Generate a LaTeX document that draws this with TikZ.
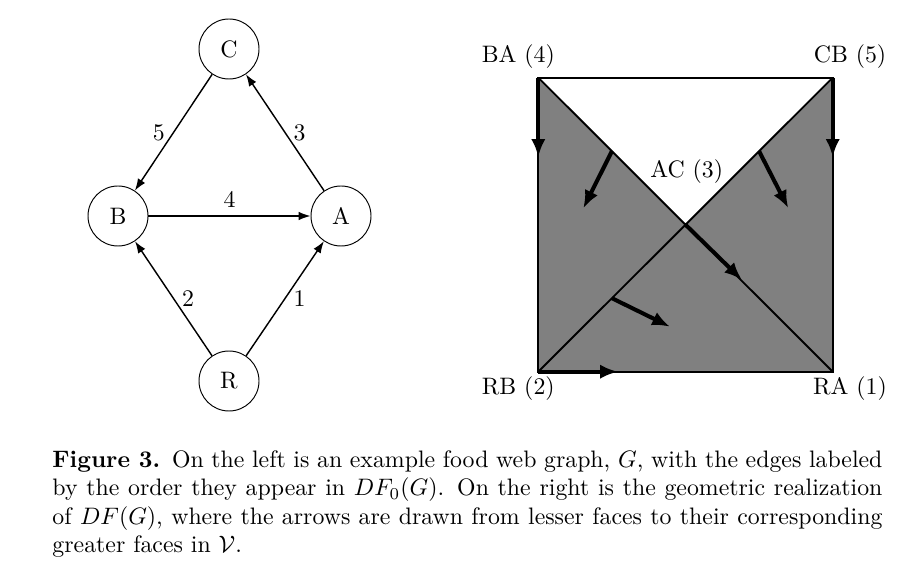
\documentclass[tikz,border=0pt]{standalone}
\usetikzlibrary{arrows.meta,calc}
\begin{document}
\begin{tikzpicture}[x=0.42pt,y=-0.42pt]
    \useasboundingbox (0,0) rectangle (916,571);

    \tikzset{nodestyle/.style={draw,shape=circle,minimum size=25.2pt,inner sep=0pt}}
    \tikzset{facearrow/.style={-{Latex[length=7.5pt,width=6pt]},line width=1.7pt}}

    % food web graph
    \node[nodestyle] (c) at (229,49) {C};
    \node[nodestyle] (b) at (118,216) {B};
    \node[nodestyle] (a) at (341,216) {A};
    \node[nodestyle] (r) at (229,381) {R};

    \begin{scope}[every path/.style={-{Latex[length=5pt,width=3.6pt]},semithick}]
        \draw (c) -- (b)node[midway,left]{5};
        \draw (a) -- (c)node[midway,right]{3};
        \draw (b) -- (a)node[midway,above]{4};
        \draw (r) -- (b)node[midway,right]{2};
        \draw (r) -- (a)node[midway,right]{1};
    \end{scope}

    % geometric realization
    \coordinate (ba) at (538.3,77.7);
    \coordinate (cb) at (832.7,77.7);
    \coordinate (rb) at (538.3,371.7);
    \coordinate (ra) at (832.7,371.7);
    \coordinate (ac) at ($(ba)!0.5!(ra)$);

    \fill[gray] (ba) -- (ac) -- (cb) -- (ra) -- (rb) -- cycle;
    \draw[thick] (ba) rectangle (ra);
    \draw[thick] (ba) -- (ra) (cb) -- (rb);

    \node (baL) at (518.3,56.7) {BA (4)};
    \node (cbL) at (850,56.7) {CB (5)};
    \node (acL) at (686.7,171.7) {AC (3)};
    \node (rbL) at (518.3,388.3) {RB (2)};
    \node (raL) at (850,388.3) {RA (1)};

    \coordinate (p1) at ($(ba)!0.25!(ra)$);
    \coordinate (p2) at ($(cb)!0.25!(rb)$);
    \coordinate (p3) at ($(rb)!0.25!(cb)$);
    \coordinate (q1) at (583.3,208.3);
    \coordinate (q2) at (788.3,208.3);
    \coordinate (q3) at (670,326.7);
    \coordinate (baE) at (538.3,157);
    \coordinate (cbE) at (832.7,157);
    \coordinate (rbE) at (618,371.7);
    \coordinate (acE) at (742,280);

    \begin{scope}[every path/.style={facearrow}]
        \draw (ba) -- (baE);
        \draw (cb) -- (cbE);
        \draw (rb) -- (rbE);
        \draw (ac) -- (acE);
        \draw (p1) -- (q1);
        \draw (p2) -- (q2);
        \draw (p3) -- (q3);
    \end{scope}

    \node[anchor=north west,inner sep=0pt,text width=348.6pt,align=justify] (caption) at (52,450)
        {\textbf{Figure 3.}\enspace On the left is an example food web graph, $G$, with the edges labeled by the order they appear in $DF_0(G)$. On the right is the geometric realization of $DF(G)$, where the arrows are drawn from lesser faces to their corresponding greater faces in $\mathcal{V}$.};
\end{tikzpicture}
\end{document}
